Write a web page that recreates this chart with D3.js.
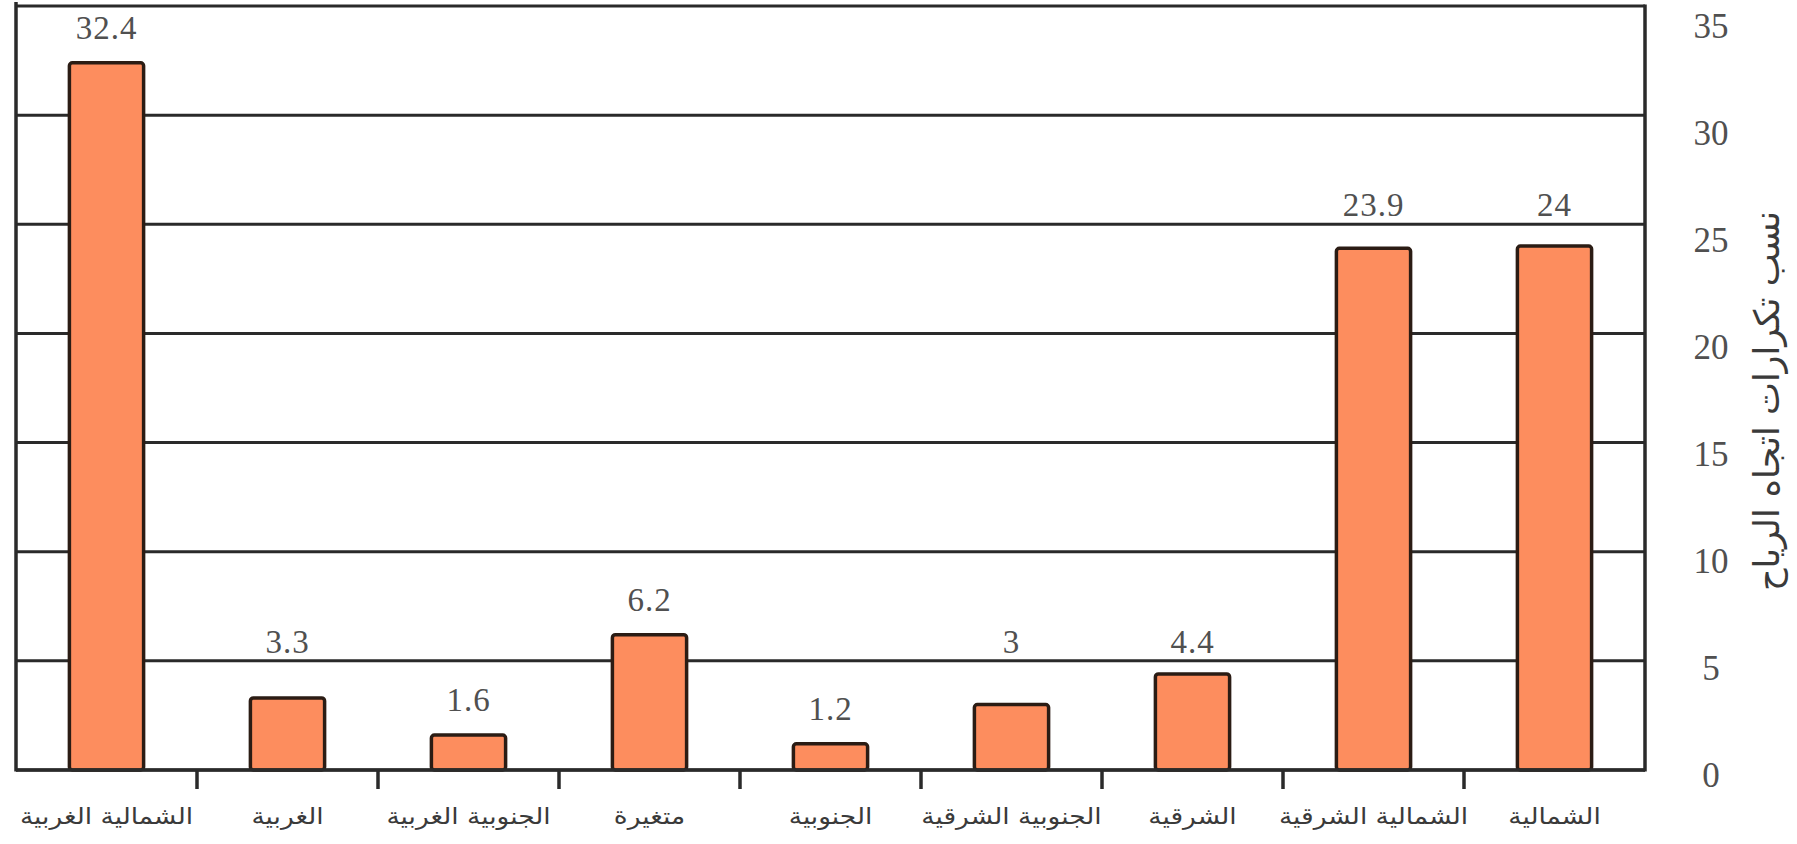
<!DOCTYPE html>
<html>
<head>
<meta charset="utf-8">
<script src="https://cdn.jsdelivr.net/npm/d3@7"></script>
<style>
    body { margin: 0; background: #fff; }
    svg { display: block; }
</style>
</head>
<body>
<div id="chart"></div>
<script>
(function() {

    // wind directions, in reading order (right to left on the chart)
    var categories = ["الشمالية", "الشمالية الشرقية", "الشرقية", "الجنوبية الشرقية",
                      "الجنوبية", "متغيرة", "الجنوبية الغربية", "الغربية", "الشمالية الغربية"];

    var values = [24, 23.9, 4.4, 3, 1.2, 6.2, 1.6, 3.3, 32.4];

    var yTicks = [0, 5, 10, 15, 20, 25, 30, 35];

    var yTitle = "نسب تكرارات اتجاه الرياح";

    var dataset = [];
    for (var i = 0; i < categories.length; i++) {
        dataset.push({ "label": categories[i], "value": values[i] });
    }

    var w = 1797, h = 844;
    var left = 16, right = 1645, top = 6, bottom = 770;

    var svg = d3.select("#chart").append("svg")
        .attr("width", w)
        .attr("height", h);

    // first category sits on the right
    var xScale = d3.scaleBand()
        .domain(categories)
        .range([right, left])
        .paddingInner(0.59)
        .paddingOuter(0.295);

    var yScale = d3.scaleLinear()
        .domain([0, 35])
        .range([bottom, top]);

    // tick numbers drift a little below their lines in the print
    var yLabel = d3.scaleLinear()
        .domain([0, 35])
        .range([bottom + 5, top + 20]);

    var ink = "#2a2a2a";
    var step = xScale.step();

    // grid lines
    svg.append("g").selectAll("line")
        .data(yTicks)
        .enter().append("line")
        .attr("x1", left)
        .attr("x2", right)
        .attr("y1", function(d) { return yScale(d); })
        .attr("y2", function(d) { return yScale(d); })
        .style("stroke", ink)
        .style("stroke-width", 3);

    // side lines of the frame
    svg.append("line")
        .attr("x1", left).attr("x2", left)
        .attr("y1", top - 4).attr("y2", bottom + 1.5)
        .style("stroke", ink).style("stroke-width", 3.5);
    svg.append("line")
        .attr("x1", right).attr("x2", right)
        .attr("y1", top - 1.5).attr("y2", bottom + 1.5)
        .style("stroke", ink).style("stroke-width", 3.5);

    // ticks between categories
    svg.append("g").selectAll("line")
        .data(categories.slice(1))
        .enter().append("line")
        .attr("x1", function(d) { return xScale(d) + xScale.bandwidth() / 2 + step / 2; })
        .attr("x2", function(d) { return xScale(d) + xScale.bandwidth() / 2 + step / 2; })
        .attr("y1", bottom)
        .attr("y2", bottom + 19)
        .style("stroke", ink)
        .style("stroke-width", 3.5);

    // bars
    svg.append("g").selectAll("rect")
        .data(dataset)
        .enter().append("rect")
        .attr("x", function(d) { return xScale(d.label); })
        .attr("width", xScale.bandwidth())
        .attr("y", function(d) { return yScale(d.value); })
        .attr("height", function(d) { return bottom - yScale(d.value); })
        .attr("rx", 3)
        .style("fill", "#fd8d5e")
        .style("stroke", "#2b1c14")
        .style("stroke-width", 3.5);

    // redraw the axis line over the bar bottoms
    svg.append("line")
        .attr("x1", left).attr("x2", right)
        .attr("y1", bottom).attr("y2", bottom)
        .style("stroke", ink).style("stroke-width", 3.5);

    // value labels, lifted above a grid line when one is in the way
    svg.append("g").selectAll("text")
        .data(dataset)
        .enter().append("text")
        .attr("x", function(d) { return xScale(d.label) + xScale.bandwidth() / 2; })
        .attr("y", function(d) {
            var barTop = yScale(d.value);
            var base = barTop - 24;
            var textTop = base - 22;
            for (var t = 0; t < yTicks.length; t++) {
                var gy = yScale(yTicks[t]);
                if (gy > textTop && gy < barTop) {
                    base = gy - 8;
                }
            }
            return base;
        })
        .attr("text-anchor", "middle")
        .style("font-family", "'Liberation Serif', serif")
        .style("font-size", "33px")
        .style("letter-spacing", "1px")
        .style("fill", "#505050")
        .text(function(d) { return d.value; });

    // y tick numbers on the right
    svg.append("g").selectAll("text")
        .data(yTicks)
        .enter().append("text")
        .attr("x", 1711)
        .attr("y", function(d) { return yLabel(d); })
        .attr("dy", "0.35em")
        .attr("text-anchor", "middle")
        .style("font-family", "'Liberation Serif', serif")
        .style("font-size", "35px")
        .style("fill", "#505050")
        .text(function(d) { return d; });

    // category names, stretched a little to match the printed width
    svg.append("g").selectAll("text")
        .data(categories)
        .enter().append("text")
        .attr("transform", function(d) {
            return "translate(" + (xScale(d) + xScale.bandwidth() / 2) + ",816) scale(1.15,1)";
        })
        .attr("dy", "0.35em")
        .attr("text-anchor", "middle")
        .attr("direction", "rtl")
        .style("font-family", "'DejaVu Sans', sans-serif")
        .style("font-size", "23px")
        .style("fill", "#3a3a3a")
        .text(function(d) { return d; });

    // axis title
    svg.append("text")
        .attr("transform", "translate(1767,401) rotate(-90)")
        .attr("dy", "0.35em")
        .attr("text-anchor", "middle")
        .attr("direction", "rtl")
        .style("font-family", "'DejaVu Sans', sans-serif")
        .style("font-size", "35px")
        .style("fill", "#3a3a3a")
        .text(yTitle);

})();
</script>
</body>
</html>
